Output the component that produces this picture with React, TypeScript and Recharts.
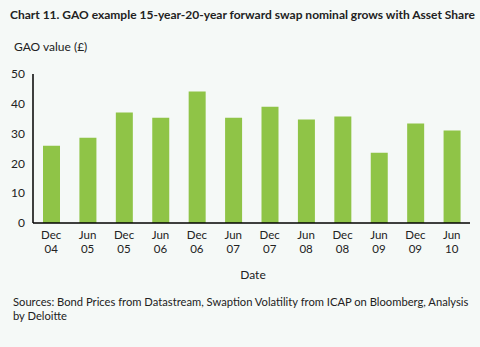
import React from 'react';
import { BarChart, Bar, XAxis, YAxis } from 'recharts';

const months = ['Dec', 'Jun', 'Dec', 'Jun', 'Dec', 'Jun', 'Dec', 'Jun', 'Dec', 'Jun', 'Dec', 'Jun'];
const years = ['04', '05', '05', '06', '06', '07', '07', '08', '08', '09', '09', '10'];
const gaoValues = [25.9, 28.6, 37.1, 35.3, 44.1, 35.3, 39.0, 34.7, 35.7, 23.6, 33.4, 31.0];
const yTicks = [0, 10, 20, 30, 40, 50];

const data = months.map((m, i) => ({ name: `${m} ${years[i]}`, value: gaoValues[i] }));

const FONT = 'Lato, "Liberation Sans", sans-serif';
const BG = '#f5f9f7';
const BAR = '#8fc447';

// two-line date tick: month on top, year below
const DateTick = (props: any) => {
  const { x, y, payload } = props;
  const [m, yr] = String(payload.value).split(' ');
  return (
    <g>
      <text x={x} y={y + 8} textAnchor="middle" fontSize={11.5} fill="#222" fontFamily={FONT}>{m}</text>
      <text x={x} y={y + 22} textAnchor="middle" fontSize={11.5} fill="#222" fontFamily={FONT}>{yr}</text>
    </g>
  );
};

const App: React.FC = () => {
  return (
    <div style={{ position: 'absolute', left: 0, top: 0, width: 480, height: 347, background: BG, fontFamily: FONT, color: '#222' }}>
      <div style={{ position: 'absolute', left: 10, top: 7, fontSize: 12, fontWeight: 700, whiteSpace: 'nowrap' }}>
        Chart 11. GAO example 15-year-20-year forward swap nominal grows with Asset Share
      </div>
      <div style={{ position: 'absolute', left: 14, top: 39, fontSize: 12 }}>GAO value (£)</div>
      <div style={{ position: 'absolute', left: 0, top: 0 }}>
        <BarChart width={480} height={347} data={data} margin={{ top: 74, right: 10, bottom: 84, left: 0 }}>
          <XAxis
            dataKey="name"
            interval={0}
            height={40}
            tickLine={false}
            axisLine={{ stroke: '#000', strokeWidth: 1.5 }}
            tick={<DateTick />}
          />
          <YAxis
            width={33}
            domain={[0, 50]}
            ticks={yTicks}
            tickLine={false}
            axisLine={{ stroke: '#000', strokeWidth: 1.5 }}
            tick={{ fontSize: 12, fill: '#222', fontFamily: FONT }}
          />
          <Bar dataKey="value" fill={BAR} barSize={17} isAnimationActive={false} />
        </BarChart>
      </div>
      <div style={{ position: 'absolute', left: 0, width: 506, top: 267, textAlign: 'center', fontSize: 12 }}>Date</div>
      <div style={{ position: 'absolute', left: 13, width: 462, top: 295, fontSize: 11.2, lineHeight: '14px' }}>
        Sources: Bond Prices from Datastream, Swaption Volatility from ICAP on Bloomberg, Analysis by Deloitte
      </div>
    </div>
  );
};

export default App;
